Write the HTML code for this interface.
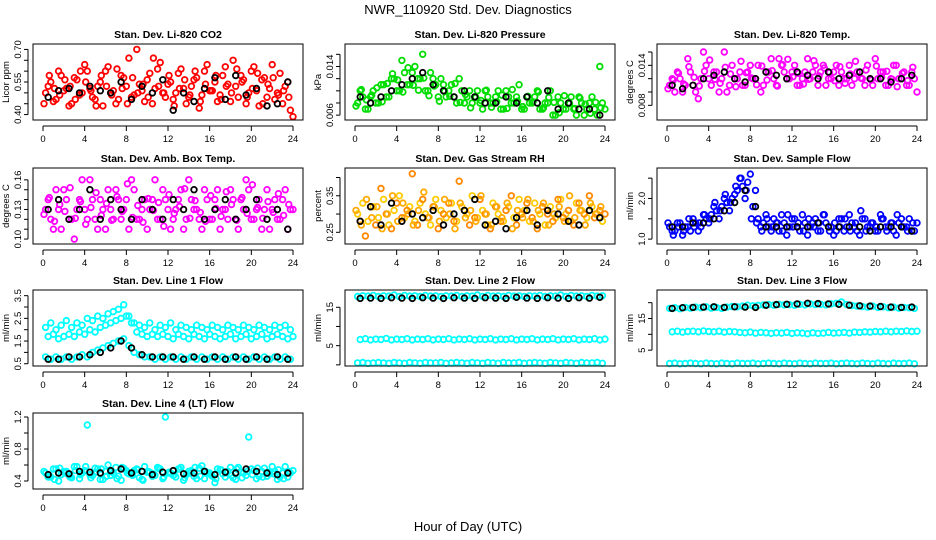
<!DOCTYPE html>
<html><head><meta charset="utf-8"><style>
html,body{margin:0;padding:0;background:#fff;}
svg{display:block;font-family:"Liberation Sans",Arial,sans-serif;}
</style></head><body>
<svg id="chart" width="936" height="540" viewBox="0 0 936 540" xmlns="http://www.w3.org/2000/svg">
<rect width="936" height="540" fill="#fff"/>
<text x="468" y="14" text-anchor="middle" font-size="13">NWR_110920  Std. Dev. Diagnostics</text>
<text x="468" y="531" text-anchor="middle" font-size="13">Hour of Day (UTC)</text>
</svg>
<script>
// ---- data ----
const hoursHalf = [0.25,0.75,1.25,1.75,2.25,2.75,3.25,3.75,4.25,4.75,5.25,5.75,6.25,6.75,7.25,7.75,8.25,8.75,9.25,9.75,10.25,10.75,11.25,11.75,12.25,12.75,13.25,13.75,14.25,14.75,15.25,15.75,16.25,16.75,17.25,17.75,18.25,18.75,19.25,19.75,20.25,20.75,21.25,21.75,22.25,22.75,23.25,23.75];
const hoursHalfB = [0.5,1,1.5,2,2.5,3,3.5,4,4.5,5,5.5,6,6.5,7,7.5,8,8.5,9,9.5,10,10.5,11,11.5,12,12.5,13,13.5,14,14.5,15,15.5,16,16.5,17,17.5,18,18.5,19,19.5,20,20.5,21,21.5,22,22.5,23,23.5,24];
const hoursC = [0.1,0.6,1.1,1.6,2.1,2.6,3.1,3.6,4.1,4.6,5.1,5.6,6.1,6.6,7.1,7.6,8.1,8.6,9.1,9.6,10.1,10.6,11.1,11.6,12.1,12.6,13.1,13.6,14.1,14.6,15.1,15.6,16.1,16.6,17.1,17.6,18.1,18.6,19.1,19.6,20.1,20.6,21.1,21.6,22.1,22.6,23.1,23.6];
const hoursBlack = [0.5,1.5,2.5,3.5,4.5,5.5,6.5,7.5,8.5,9.5,10.5,11.5,12.5,13.5,14.5,15.5,16.5,17.5,18.5,19.5,20.5,21.5,22.5,23.5];

const co2A = [0.50,0.55,0.47,0.58,0.52,0.45,0.56,0.50,0.60,0.48,0.53,0.44,0.62,0.51,0.47,0.57,0.66,0.49,0.54,0.46,0.59,0.52,0.64,0.48,0.55,0.50,0.61,0.45,0.53,0.57,0.49,0.63,0.51,0.46,0.58,0.54,0.65,0.48,0.56,0.50,0.62,0.44,0.57,0.52,0.47,0.59,0.53,0.42];
const co2B = [0.53,0.46,0.60,0.51,0.44,0.57,0.49,0.63,0.52,0.47,0.55,0.60,0.50,0.45,0.58,0.53,0.48,0.70,0.51,0.56,0.45,0.61,0.50,0.54,0.47,0.59,0.52,0.48,0.56,0.43,0.60,0.51,0.55,0.49,0.62,0.46,0.53,0.58,0.45,0.60,0.51,0.56,0.48,0.63,0.50,0.45,0.55,0.39];
const co2C = [0.45,0.58,0.52,0.49,0.56,0.53,0.47,0.60,0.55,0.51,0.44,0.58,0.53,0.49,0.61,0.52,0.45,0.57,0.50,0.54,0.48,0.66,0.53,0.50,0.58,0.44,0.52,0.56,0.49,0.60,0.46,0.54,0.51,0.58,0.47,0.53,0.50,0.61,0.55,0.48,0.52,0.59,0.45,0.54,0.57,0.49,0.51,0.48];
const co2K = [0.48,0.51,0.52,0.50,0.53,0.51,0.50,0.55,0.47,0.53,0.50,0.56,0.42,0.50,0.46,0.52,0.57,0.47,0.58,0.49,0.52,0.44,0.45,0.55];

const presA = [0.008,0.009,0.007,0.010,0.008,0.011,0.009,0.012,0.010,0.013,0.011,0.014,0.012,0.010,0.013,0.011,0.012,0.009,0.011,0.008,0.010,0.009,0.008,0.010,0.007,0.009,0.008,0.010,0.007,0.009,0.008,0.011,0.007,0.008,0.009,0.007,0.008,0.010,0.006,0.008,0.007,0.009,0.006,0.008,0.007,0.009,0.006,0.008];
const presB = [0.010,0.007,0.009,0.008,0.011,0.009,0.012,0.010,0.015,0.011,0.013,0.012,0.016,0.010,0.012,0.009,0.011,0.010,0.009,0.012,0.008,0.010,0.009,0.008,0.010,0.008,0.009,0.007,0.010,0.008,0.009,0.007,0.009,0.008,0.010,0.007,0.008,0.006,0.009,0.007,0.008,0.007,0.009,0.006,0.008,0.007,0.014,0.007];
const presC = [0.0075,0.0102,0.0085,0.0093,0.0105,0.0082,0.0112,0.0128,0.0118,0.0098,0.0138,0.0109,0.0101,0.0121,0.0092,0.0108,0.0083,0.0099,0.0091,0.0112,0.0081,0.0094,0.0072,0.0089,0.0084,0.0101,0.0073,0.0082,0.0093,0.0071,0.0102,0.0083,0.0074,0.0091,0.0082,0.0098,0.0072,0.0089,0.0081,0.0064,0.0092,0.0079,0.0071,0.0088,0.0078,0.0063,0.0081,0.0072];
const presK = [0.009,0.008,0.009,0.010,0.011,0.012,0.013,0.011,0.010,0.009,0.010,0.009,0.008,0.008,0.009,0.008,0.009,0.008,0.010,0.007,0.008,0.007,0.007,0.006];

const tempA = [0.011,0.010,0.012,0.011,0.013,0.010,0.012,0.014,0.011,0.013,0.012,0.010,0.014,0.012,0.011,0.013,0.012,0.014,0.011,0.013,0.012,0.015,0.013,0.012,0.014,0.011,0.013,0.012,0.014,0.013,0.011,0.012,0.014,0.013,0.012,0.011,0.013,0.012,0.014,0.011,0.012,0.013,0.011,0.014,0.012,0.013,0.011,0.012];
const tempB = [0.012,0.013,0.010,0.015,0.011,0.009,0.016,0.012,0.013,0.010,0.016,0.011,0.012,0.013,0.011,0.014,0.012,0.010,0.013,0.015,0.011,0.014,0.012,0.013,0.011,0.012,0.015,0.013,0.011,0.014,0.012,0.013,0.011,0.012,0.014,0.012,0.013,0.011,0.012,0.015,0.013,0.011,0.012,0.014,0.012,0.011,0.013,0.010];
const tempC = [0.0105,0.0118,0.0128,0.0112,0.0138,0.0122,0.0109,0.0131,0.0148,0.0119,0.0113,0.0137,0.0127,0.0108,0.0146,0.0129,0.0121,0.0111,0.0139,0.0118,0.0132,0.0109,0.0141,0.0149,0.0123,0.0128,0.0112,0.0119,0.0147,0.0124,0.0136,0.0129,0.0117,0.0138,0.0113,0.0127,0.0146,0.0121,0.0133,0.0118,0.0139,0.0122,0.0131,0.0119,0.0108,0.0128,0.0117,0.0137];
const tempK = [0.011,0.0105,0.011,0.012,0.0125,0.013,0.012,0.0115,0.012,0.013,0.0125,0.012,0.013,0.0125,0.012,0.013,0.012,0.0125,0.013,0.012,0.012,0.0115,0.012,0.0125];

const boxA = [0.13,0.12,0.15,0.11,0.14,0.12,0.13,0.16,0.12,0.14,0.11,0.13,0.15,0.12,0.14,0.13,0.11,0.15,0.12,0.14,0.13,0.16,0.12,0.14,0.11,0.13,0.15,0.12,0.14,0.13,0.11,0.14,0.12,0.15,0.13,0.12,0.14,0.11,0.13,0.15,0.12,0.14,0.13,0.11,0.14,0.12,0.15,0.13];
const boxB = [0.14,0.11,0.13,0.15,0.12,0.10,0.14,0.13,0.16,0.12,0.14,0.11,0.13,0.15,0.12,0.14,0.16,0.12,0.13,0.11,0.14,0.12,0.15,0.13,0.12,0.14,0.11,0.16,0.13,0.12,0.15,0.12,0.14,0.11,0.13,0.15,0.12,0.14,0.16,0.12,0.13,0.11,0.15,0.13,0.12,0.14,0.11,0.13];
const boxC = [0.125,0.142,0.118,0.135,0.128,0.152,0.121,0.138,0.115,0.132,0.147,0.124,0.136,0.119,0.143,0.128,0.156,0.122,0.134,0.117,0.141,0.129,0.137,0.113,0.145,0.126,0.133,0.151,0.121,0.139,0.127,0.118,0.144,0.131,0.123,0.148,0.135,0.119,0.142,0.126,0.155,0.132,0.121,0.138,0.127,0.146,0.124,0.135];
const boxK = [0.13,0.14,0.12,0.13,0.15,0.12,0.14,0.13,0.12,0.14,0.13,0.12,0.14,0.13,0.15,0.12,0.13,0.14,0.12,0.13,0.14,0.12,0.13,0.11];

const rhA = [0.30,0.33,0.28,0.32,0.29,0.34,0.27,0.31,0.35,0.29,0.32,0.28,0.33,0.30,0.27,0.34,0.31,0.29,0.33,0.28,0.32,0.30,0.35,0.29,0.31,0.27,0.33,0.30,0.28,0.32,0.29,0.34,0.31,0.28,0.33,0.30,0.27,0.32,0.29,0.34,0.30,0.28,0.33,0.31,0.29,0.32,0.30,0.28];
const rhB = [0.28,0.24,0.32,0.27,0.37,0.30,0.26,0.33,0.29,0.31,0.41,0.27,0.34,0.29,0.32,0.26,0.30,0.33,0.28,0.39,0.31,0.27,0.29,0.34,0.30,0.26,0.32,0.28,0.31,0.35,0.27,0.30,0.33,0.29,0.26,0.32,0.30,0.28,0.34,0.29,0.31,0.27,0.33,0.30,0.35,0.29,0.31,0.30];
const rhC = [0.31,0.27,0.34,0.29,0.32,0.26,0.30,0.35,0.28,0.33,0.30,0.27,0.31,0.36,0.29,0.32,0.28,0.34,0.30,0.26,0.33,0.29,0.31,0.28,0.35,0.30,0.27,0.32,0.29,0.33,0.26,0.31,0.29,0.34,0.28,0.31,0.33,0.27,0.30,0.32,0.28,0.35,0.29,0.31,0.27,0.33,0.30,0.32];
const rhK = [0.28,0.32,0.27,0.33,0.28,0.30,0.29,0.31,0.27,0.30,0.31,0.34,0.27,0.28,0.26,0.29,0.31,0.27,0.31,0.30,0.28,0.27,0.31,0.29];

const flowA = [1.3,1.2,1.4,1.3,1.2,1.4,1.3,1.5,1.6,1.7,1.8,1.9,2.0,2.2,2.3,2.4,1.8,1.5,1.4,1.3,1.5,1.2,1.4,1.3,1.5,1.2,1.4,1.3,1.5,1.2,1.4,1.3,1.2,1.5,1.3,1.4,1.2,1.5,1.3,1.4,1.2,1.5,1.3,1.2,1.4,1.3,1.5,1.2];
const flowB = [1.2,1.4,1.1,1.3,1.5,1.2,1.6,1.4,1.8,1.5,2.0,1.7,2.1,2.5,2.0,2.6,2.2,1.3,1.6,1.2,1.4,1.6,1.1,1.5,1.3,1.6,1.1,1.4,1.2,1.6,1.3,1.1,1.5,1.2,1.6,1.3,1.1,1.5,1.3,1.2,1.6,1.3,1.4,1.1,1.5,1.3,1.2,1.4];
const flowC = [1.4,1.1,1.3,1.2,1.5,1.3,1.4,1.6,1.5,1.9,1.7,2.1,1.9,2.3,2.5,2.2,1.5,1.4,1.2,1.5,1.3,1.4,1.2,1.6,1.3,1.4,1.2,1.5,1.3,1.4,1.6,1.2,1.4,1.3,1.5,1.2,1.4,1.7,1.2,1.4,1.3,1.5,1.2,1.4,1.6,1.3,1.2,1.4];
const flowK = [1.3,1.3,1.4,1.4,1.5,1.7,1.9,2.2,1.8,1.3,1.3,1.3,1.3,1.3,1.4,1.3,1.3,1.3,1.3,1.2,1.3,1.3,1.3,1.2];

const l1A = [2.1,2.3,2.0,2.2,2.4,2.1,2.3,2.2,2.5,2.4,2.6,2.5,2.7,2.8,2.9,3.1,2.6,2.3,2.2,2.1,2.3,2.0,2.2,2.1,2.3,2.0,2.2,2.1,2.0,2.2,2.1,2.0,2.2,2.1,2.0,2.2,2.1,2.0,2.2,2.1,2.0,2.2,2.1,2.0,2.2,2.1,2.2,2.0];
const l1B = [1.7,1.8,1.6,1.7,1.8,1.7,1.9,1.8,2.0,1.9,2.1,2.2,2.3,2.4,2.5,2.6,2.3,1.9,1.8,1.7,1.8,1.7,1.8,1.7,1.6,1.8,1.7,1.6,1.8,1.7,1.6,1.8,1.7,1.6,1.7,1.8,1.6,1.7,1.8,1.6,1.7,1.8,1.6,1.7,1.8,1.7,1.6,1.7];
const l1C = [0.8,0.7,0.8,0.7,0.8,0.7,0.8,0.9,0.8,1.0,1.1,1.2,1.3,1.4,1.5,1.6,1.3,1.0,0.9,0.8,0.8,0.7,0.8,0.7,0.8,0.7,0.8,0.7,0.8,0.7,0.8,0.7,0.8,0.7,0.8,0.7,0.8,0.7,0.8,0.7,0.8,0.7,0.8,0.7,0.8,0.7,0.8,0.7];
const l1K = [0.7,0.7,0.8,0.8,0.9,1.0,1.2,1.5,1.2,0.9,0.8,0.8,0.8,0.7,0.8,0.7,0.8,0.7,0.8,0.7,0.8,0.7,0.8,0.7];

const l2A = [17.8,18.0,17.9,18.1,17.8,18.0,17.9,18.2,17.8,18.1,17.9,18.0,17.8,18.1,17.9,18.0,17.8,18.0,17.9,18.1,17.8,18.0,17.9,18.2,17.8,18.1,17.9,18.0,17.8,18.1,17.9,18.0,17.8,18.0,17.9,18.1,17.8,18.0,17.9,18.2,17.8,18.1,17.9,18.0,17.8,18.1,17.9,18.0];
const l2B = [6.6,6.8,6.5,6.7,6.6,6.9,6.5,6.7,6.6,6.8,6.5,6.7,6.6,6.8,6.5,6.7,6.6,6.8,6.5,6.7,6.6,6.8,6.5,6.7,6.6,6.8,6.5,6.7,6.6,6.8,6.5,6.7,6.6,6.8,6.5,6.7,6.6,6.8,6.5,6.7,6.6,6.8,6.5,6.7,6.6,6.8,6.5,6.7];
const l2C = [0.5,0.6,0.4,0.5,0.6,0.5,0.4,0.6,0.5,0.4,0.6,0.5,0.4,0.6,0.5,0.5,0.6,0.4,0.5,0.6,0.5,0.4,0.6,0.5,0.4,0.6,0.5,0.4,0.6,0.5,0.5,0.6,0.4,0.5,0.6,0.5,0.4,0.6,0.5,0.4,0.6,0.5,0.4,0.6,0.5,0.5,0.6,0.4];
const l2K = [17.3,17.4,17.3,17.5,17.4,17.3,17.5,17.4,17.3,17.5,17.4,17.3,17.5,17.4,17.3,17.6,17.4,17.3,17.5,17.4,17.3,17.5,17.4,17.6];

const l3A = [18.2,18.4,18.1,18.5,18.3,18.6,18.4,18.7,18.3,18.5,18.2,18.6,18.8,18.7,18.9,19.2,19.0,19.1,19.3,19.4,19.2,19.5,19.3,19.4,19.2,19.5,19.3,19.6,19.4,19.5,19.3,19.6,19.8,20.2,19.4,19.1,18.9,18.8,18.6,18.9,18.5,18.7,18.4,18.6,18.3,18.5,18.4,18.2];
const l3B = [10.8,11.0,10.7,10.9,11.0,10.8,11.1,10.9,10.8,11.0,10.7,10.9,10.8,10.6,10.5,10.7,10.4,10.6,10.5,10.3,10.5,10.4,10.6,10.3,10.5,10.4,10.2,10.5,10.3,10.4,10.6,10.4,10.5,10.6,10.4,10.7,10.6,10.8,10.7,10.9,10.8,11.0,10.8,11.0,10.9,11.1,10.9,11.0];
const l3C = [0.8,0.9,0.7,0.8,0.9,0.8,0.7,0.9,0.8,0.7,0.9,0.8,0.7,0.9,0.8,0.8,0.9,0.7,0.8,0.9,0.8,0.7,0.9,0.8,0.7,0.9,0.8,0.7,0.9,0.8,0.8,0.9,0.7,0.8,0.9,0.8,0.7,0.9,0.8,0.7,0.9,0.8,0.7,0.9,0.8,0.8,0.9,0.7];
const l3K = [18.2,18.4,18.5,18.6,18.7,18.5,18.7,18.6,18.5,19.2,19.4,19.5,19.6,19.8,19.7,19.6,19.5,19.2,19.0,18.9,18.8,18.6,18.5,18.6];

const l4A = [0.50,0.45,0.55,0.48,0.52,0.44,0.58,0.50,1.10,0.47,0.55,0.42,0.60,0.50,0.46,0.56,0.49,0.53,0.44,0.58,0.51,0.47,0.55,1.20,0.50,0.45,0.57,0.48,0.53,0.43,0.59,0.50,0.46,0.55,0.49,0.52,0.44,0.57,0.50,0.95,0.53,0.46,0.56,0.49,0.52,0.45,0.58,0.50];
const l4B = [0.45,0.55,0.40,0.52,0.47,0.58,0.43,0.53,0.48,0.56,0.42,0.52,0.47,0.57,0.41,0.53,0.48,0.55,0.42,0.51,0.46,0.57,0.43,0.50,0.47,0.55,0.41,0.52,0.46,0.56,0.43,0.50,0.38,0.54,0.45,0.57,0.42,0.51,0.47,0.55,0.43,0.52,0.46,0.58,0.42,0.50,0.45,0.53];
const l4C = [0.52,0.47,0.42,0.56,0.50,0.45,0.53,0.48,0.58,0.44,0.51,0.55,0.46,0.52,0.43,0.57,0.50,0.47,0.54,0.41,0.52,0.49,0.56,0.45,0.51,0.48,0.55,0.44,0.50,0.57,0.46,0.52,0.48,0.43,0.54,0.50,0.47,0.55,0.44,0.52,0.48,0.56,0.45,0.51,0.49,0.54,0.43,0.52];
const l4K = [0.48,0.50,0.49,0.52,0.51,0.50,0.53,0.55,0.50,0.52,0.48,0.51,0.53,0.49,0.50,0.52,0.48,0.51,0.50,0.55,0.52,0.50,0.48,0.50];

// ---- layout ----
const svg = document.getElementById('chart');
const NS = 'http://www.w3.org/2000/svg';
const colX = [33, 345, 657];
const rowY = [44, 168, 290, 413];
const PW = 270, PH = 76;
const xTicks = [0,4,8,12,16,20,24];

const panels = [
 {name:'li820-co2', title:'Stan. Dev. Li-820 CO2', ylab:'Licor ppm', ylim:[0.375,0.725], ticks:[0.40,0.45,0.50,0.55,0.60,0.65,0.70], labels:['0.40','','','0.55','','','0.70'],
  series:[[hoursHalf,co2A,'#ff0000'],[hoursHalfB,co2B,'#ff0000'],[hoursC,co2C,'#ff0000'],[hoursBlack,co2K,'#000000']]},
 {name:'li820-pressure', title:'Stan. Dev. Li-820 Pressure', ylab:'kPa', ylim:[0.0052,0.0177], ticks:[0.006,0.008,0.010,0.012,0.014,0.016], labels:['0.006','','','','0.014',''],
  series:[[hoursHalf,presA,'#00dd00'],[hoursHalfB,presB,'#00dd00'],[hoursC,presC,'#00dd00'],[hoursBlack,presK,'#000000']]},
 {name:'li820-temp', title:'Stan. Dev. Li-820 Temp.', ylab:'degrees C', ylim:[0.0058,0.0172], ticks:[0.008,0.010,0.012,0.014,0.016], labels:['0.008','','','0.014',''],
  series:[[hoursHalf,tempA,'#ff00ff'],[hoursHalfB,tempB,'#ff00ff'],[hoursC,tempC,'#ff00ff'],[hoursBlack,tempK,'#000000']]},
 {name:'amb-box-temp', title:'Stan. Dev. Amb. Box Temp.', ylab:'degrees C', ylim:[0.095,0.172], ticks:[0.10,0.11,0.12,0.13,0.14,0.15,0.16], labels:['0.10','','','0.13','','','0.16'],
  series:[[hoursHalf,boxA,'#ff00ff'],[hoursHalfB,boxB,'#ff00ff'],[hoursC,boxC,'#ff00ff'],[hoursBlack,boxK,'#000000']]},
 {name:'gas-stream-rh', title:'Stan. Dev. Gas Stream RH', ylab:'percent', ylim:[0.218,0.426], ticks:[0.25,0.30,0.35,0.40], labels:['0.25','','0.35',''],
  series:[[hoursHalf,rhA,'#ffcc00'],[hoursHalfB,rhB,'#ff8800'],[hoursC,rhC,'#ffaa00'],[hoursBlack,rhK,'#000000']]},
 {name:'sample-flow', title:'Stan. Dev. Sample Flow', ylab:'ml/min', ylim:[0.88,2.75], ticks:[1.0,1.5,2.0,2.5], labels:['1.0','','2.0',''],
  series:[[hoursHalf,flowA,'#0000ff'],[hoursHalfB,flowB,'#0000ff'],[hoursC,flowC,'#0000ff'],[hoursBlack,flowK,'#000000']]},
 {name:'line1-flow', title:'Stan. Dev. Line 1 Flow', ylab:'ml/min', ylim:[0.4,3.75], ticks:[0.5,1.0,1.5,2.0,2.5,3.0,3.5], labels:['0.5','','1.5','','2.5','','3.5'],
  series:[[hoursHalf,l1A,'#00ffff'],[hoursHalfB,l1B,'#00ffff'],[hoursHalf,l1C,'#00ffff'],[hoursBlack,l1K,'#000000']]},
 {name:'line2-flow', title:'Stan. Dev. Line 2 Flow', ylab:'ml/min', ylim:[-0.3,19.5], ticks:[0,5,10,15], labels:['','5','','15'],
  series:[[hoursHalf,l2A,'#00ffff'],[hoursHalfB,l2B,'#00ffff'],[hoursHalf,l2C,'#00ffff'],[hoursBlack,l2K,'#000000']]},
 {name:'line3-flow', title:'Stan. Dev. Line 3 Flow', ylab:'ml/min', ylim:[0,24], ticks:[5,10,15,20], labels:['5','','15',''],
  series:[[hoursHalf,l3A,'#00ffff'],[hoursHalfB,l3B,'#00ffff'],[hoursHalf,l3C,'#00ffff'],[hoursBlack,l3K,'#000000']]},
 {name:'line4-lt-flow', title:'Stan. Dev. Line 4 (LT) Flow', ylab:'ml/min', ylim:[0.3,1.25], ticks:[0.4,0.6,0.8,1.0,1.2], labels:['0.4','','0.8','','1.2'],
  series:[[hoursHalf,l4A,'#00ffff'],[hoursHalfB,l4B,'#00ffff'],[hoursC,l4C,'#00ffff'],[hoursBlack,l4K,'#000000']]}
];

function mk(tag, attrs, parent){
  const e = document.createElementNS(NS, tag);
  for (const k in attrs) e.setAttribute(k, attrs[k]);
  (parent||svg).appendChild(e);
  return e;
}

panels.forEach((p, i) => {
  const x0 = colX[i % 3], y0 = rowY[Math.floor(i / 3)];
  const xs = h => x0 + PW * (h + 0.96) / 25.92;
  const ys = v => y0 + PH - PH * (v - p.ylim[0]) / (p.ylim[1] - p.ylim[0]);
  const g = mk('g', {});
  
  

  const t = mk('text', {x: x0 + PW/2, y: y0 - 6, 'text-anchor':'middle', 'font-size':'10.5', 'font-weight':'bold'}, g);
  t.textContent = p.title;
  
  

  p.series.forEach(s => {
    const sg = mk('g', {fill:'none', stroke:s[2], 'stroke-width':'1.8'}, g);
    
    
    s[1].forEach((v, j) => {
      const c = mk('circle', {cx: xs(s[0][j]).toFixed(1), cy: ys(v).toFixed(1), r: '2.8'}, sg);
      
      
    });
  });

  const box = mk('rect', {x:x0, y:y0, width:PW, height:PH, fill:'none', stroke:'#000', 'stroke-width':'1'}, g);
  
  

  const xa = mk('g', {stroke:'#000', 'stroke-width':'1'}, g);
  
  
  mk('line', {x1: xs(0), x2: xs(24), y1: y0 + PH + 6, y2: y0 + PH + 6}, xa);
  xTicks.forEach(h => {
    mk('line', {x1: xs(h), x2: xs(h), y1: y0 + PH + 6, y2: y0 + PH + 11}, xa);
    const tl = mk('text', {x: xs(h), y: y0 + PH + 22, 'text-anchor':'middle', 'font-size':'9.5', stroke:'none', fill:'#000'}, xa);
    tl.textContent = h;
    
    
  });

  const ya = mk('g', {stroke:'#000', 'stroke-width':'1'}, g);
  
  
  const tk = p.ticks;
  mk('line', {x1: x0 - 5, x2: x0 - 5, y1: ys(tk[0]), y2: ys(tk[tk.length - 1])}, ya);
  tk.forEach((v, j) => {
    mk('line', {x1: x0 - 5, x2: x0 - 9, y1: ys(v), y2: ys(v)}, ya);
    if (p.labels[j]) {
      const yy = ys(v), xx = x0 - 12;
      const tl = mk('text', {x: xx, y: yy, 'text-anchor':'middle', 'font-size':'9.5', stroke:'none', fill:'#000', transform:`rotate(-90 ${xx} ${yy})`}, ya);
      tl.textContent = p.labels[j];
      
      
    }
  });
  const lx = x0 - 24, ly = y0 + PH/2;
  const yl = mk('text', {x: lx, y: ly, 'text-anchor':'middle', 'font-size':'9.5', transform:`rotate(-90 ${lx} ${ly})`}, g);
  yl.textContent = p.ylab;
  
  
});
</script>
</body></html>
